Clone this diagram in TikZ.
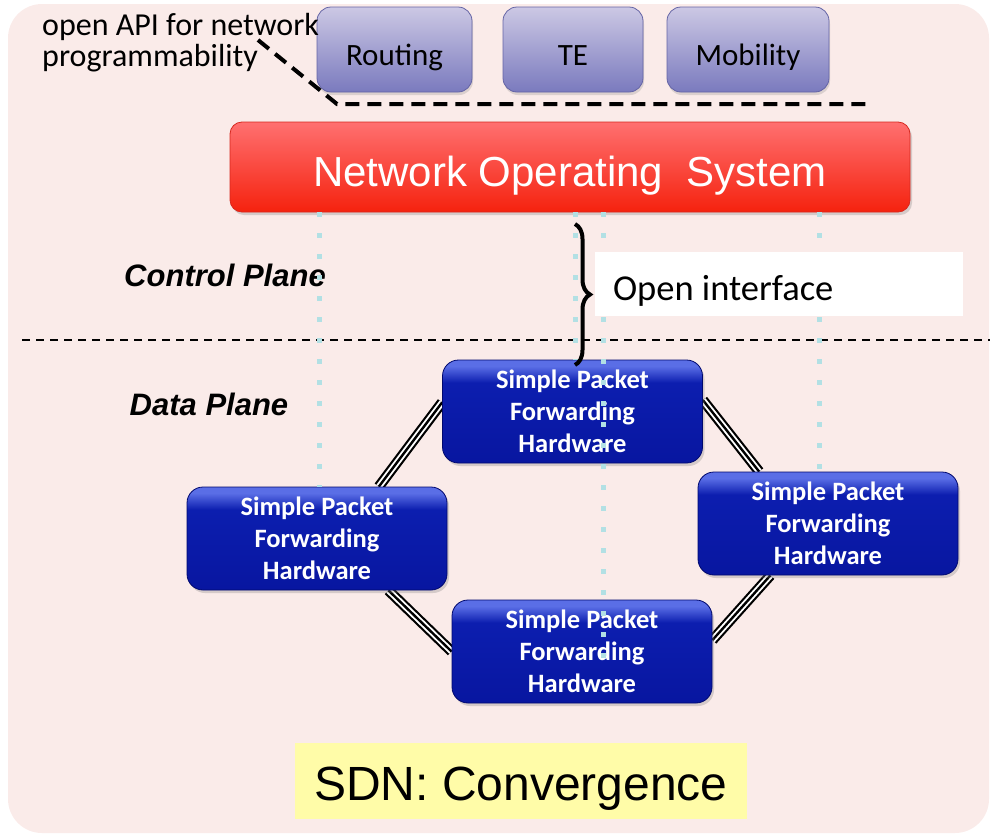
\documentclass[tikz,border=0pt]{standalone}
\usepackage{fontspec}
\setmainfont{Carlito}
\newfontfamily\arialfont{Liberation Sans}
\usetikzlibrary{positioning,calc,shadows,backgrounds,decorations.pathreplacing}

\definecolor{bgpink}{RGB}{250,235,233}
\definecolor{apptop}{RGB}{204,200,228}
\definecolor{appbot}{RGB}{122,122,190}
\definecolor{appline}{RGB}{100,100,165}
\definecolor{nostop}{RGB}{255,112,112}
\definecolor{nosbot}{RGB}{245,34,14}
\definecolor{nosline}{RGB}{215,40,30}
\definecolor{pktlow}{RGB}{8,22,160}
\definecolor{pktmid}{RGB}{12,30,175}
\definecolor{pkthigh}{RGB}{90,110,230}
\definecolor{pktline}{RGB}{0,8,110}
\definecolor{dotblue}{RGB}{178,224,228}
\definecolor{noteyellow}{RGB}{255,252,168}

\pgfdeclareverticalshading{pktshade}{100bp}{color(0bp)=(pktlow); color(25bp)=(pktlow); color(64bp)=(pktmid); color(72bp)=(pkthigh); color(100bp)=(pkthigh)}

\tikzset{
  appbox/.style={draw=appline, line width=0.8pt, rounded corners=14pt,
    top color=apptop, bottom color=appbot, minimum height=85pt,
    text height=31pt, text depth=0pt, font=\fontsize{31}{36}\selectfont,
    drop shadow={opacity=0.25, shadow xshift=1pt, shadow yshift=-3pt}},
  pktbox/.style={draw=pktline, line width=0.8pt, rounded corners=16pt,
    shading=pktshade, minimum width=260pt, minimum height=103pt,
    align=center, text=white, font=\fontsize{26.5}{32}\selectfont\bfseries,
    drop shadow={opacity=0.3, shadow xshift=2pt, shadow yshift=-3pt}},
  planelabel/.style={font=\arialfont\fontsize{31}{36}\selectfont\bfseries\itshape},
  link/.style={line width=2.4pt, preaction={draw, black, line width=10.5pt},
    preaction={draw, white, line width=6.2pt}},
  dotline/.style={dotblue, line width=5pt, dash pattern=on 5pt off 16pt}
}

\begin{document}
\begin{tikzpicture}[x=1pt,y=-1pt]
\useasboundingbox (0,0) rectangle (990,836);
% background panel
\begin{pgfonlayer}{background}
\fill[bgpink, rounded corners=34pt] (8,4) rectangle (989,833);
\end{pgfonlayer}

% control / data plane border
\coordinate (planeL) at (22,340);
\coordinate (planeR) at (990,340);
\draw[line width=1.5pt, dash pattern=on 8pt off 6pt] (planeL) -- (planeR);

% applications
\node[appbox, minimum width=155pt] (routing) at (394.5,49.5) {Routing};
\node[appbox, minimum width=140pt] (te) at (573,49.5) {TE};
\node[appbox, minimum width=162pt] (mobility) at (748,49.5) {Mobility};

% open API callout
\node[anchor=north west, inner sep=0pt, align=left,
  font=\fontsize{32}{31}\selectfont] (apilabel) at (42,13) {open API for network\\programmability};
\coordinate (apitip) at (258,40);
\coordinate (apibend) at (337,104);
\coordinate (apiend) at (870,104);
\draw[line width=4pt, dash pattern=on 14pt off 8pt] (apitip) -- (apibend) -- (apiend);

% network OS
\node[draw=nosline, line width=0.8pt, rounded corners=12pt,
  top color=nostop, bottom color=nosbot, minimum width=680pt, minimum height=90pt,
  text=white, text height=38pt, text depth=0pt, font=\arialfont\fontsize{42}{48}\selectfont,
  drop shadow={opacity=0.3, shadow xshift=2pt, shadow yshift=-3pt}]
  (nos) at (570,167) {Network Operating\ \ System};

% plane labels
\node[planelabel] (ctrl) at (225,275) {Control Plane};
\node[planelabel] (data) at (209,404) {Data Plane};

% forwarding hardware
\node[pktbox] (pkttop) at (572.5,411.5) {Simple Packet\\Forwarding\\Hardware};
\node[pktbox] (pktleft) at (317,538.5) {Simple Packet\\Forwarding\\Hardware};
\node[pktbox] (pktright) at (828,523.5) {Simple Packet\\Forwarding\\Hardware};
\node[pktbox] (pktbot) at (582,651.5) {Simple Packet\\Forwarding\\Hardware};

% links (behind the boxes)
\begin{pgfonlayer}{background}
\draw[link] (pkttop.176) -- (pktleft.40);
\draw[link] (pktleft.-36) -- (pktbot.west);
\draw[link] (pktbot.5) -- (pktright.222);
\draw[link] (pktright.143) -- (pkttop.5);
\end{pgfonlayer}

% controller to switch dotted lines
\coordinate (dotA) at (319,487);
\coordinate (dotB) at (575,360);
\coordinate (dotC) at (603,662);
\coordinate (dotD) at (819,472);
\foreach \d in {dotA,dotB,dotC,dotD}
  \draw[dotline] (nos.south -| \d) -- (\d);

% open interface
\node[fill=white, minimum width=368pt, minimum height=64pt] (iface) at (779,284) {};
\node[anchor=base west, inner sep=0pt, font=\fontsize{36.5}{40}\selectfont]
  (ifacetext) at ($(iface.south west)+(18,-16)$) {Open interface};
\coordinate (bracetop) at (575,224);
\coordinate (bracebot) at (575,365);
\draw[line width=4pt, decorate, decoration={brace, amplitude=15pt}] (bracetop) -- (bracebot);

% caption
\node[fill=noteyellow, minimum width=452pt, minimum height=76pt,
  text height=38pt, text depth=0pt,
  font=\arialfont\fontsize{48}{54}\selectfont] (caption) at (521,781) {SDN: Convergence};
\end{tikzpicture}
\end{document}
